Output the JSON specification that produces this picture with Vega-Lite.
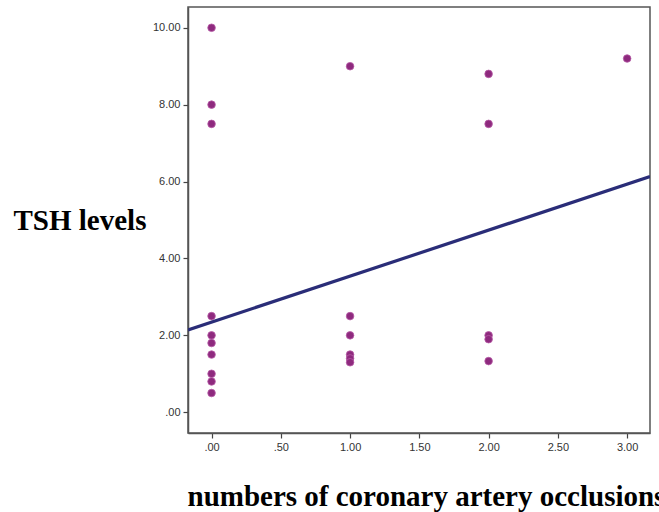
{
  "$schema": "https://vega.github.io/schema/vega-lite/v6.json",
  "width": 462,
  "height": 426,
  "autosize": {"type": "none"},
  "padding": {"left": 188, "top": 7, "right": 9, "bottom": 79},
  "background": "white",
  "config": {
    "view": {"stroke": "#555555", "strokeWidth": 1.5},
    "axis": {"grid": false, "domainColor": "#555555", "domainWidth": 1.5, "tickColor": "#444444", "tickSize": 5, "tickWidth": 1.2, "labelFont": "Liberation Sans", "labelFontSize": 11, "labelColor": "#333333", "labelPadding": 3}
  },
  "datasets": {
    "pts": [
      {"occlusions": 0, "tsh": 10.0},
      {"occlusions": 0, "tsh": 8.0},
      {"occlusions": 0, "tsh": 7.5},
      {"occlusions": 0, "tsh": 2.5},
      {"occlusions": 0, "tsh": 2.0},
      {"occlusions": 0, "tsh": 1.8},
      {"occlusions": 0, "tsh": 1.5},
      {"occlusions": 0, "tsh": 1.0},
      {"occlusions": 0, "tsh": 0.8},
      {"occlusions": 0, "tsh": 0.5},
      {"occlusions": 1, "tsh": 9.0},
      {"occlusions": 1, "tsh": 2.5},
      {"occlusions": 1, "tsh": 2.0},
      {"occlusions": 1, "tsh": 1.5},
      {"occlusions": 1, "tsh": 1.4},
      {"occlusions": 1, "tsh": 1.3},
      {"occlusions": 2, "tsh": 8.8},
      {"occlusions": 2, "tsh": 7.5},
      {"occlusions": 2, "tsh": 2.0},
      {"occlusions": 2, "tsh": 1.9},
      {"occlusions": 2, "tsh": 1.33},
      {"occlusions": 3, "tsh": 9.2}
    ],
    "fit": [
      {"occlusions": -0.17, "tsh": 2.14},
      {"occlusions": 3.165, "tsh": 6.13}
    ]
  },
  "layer": [
    {
      "data": {"name": "pts"},
      "mark": {"type": "point", "filled": true, "size": 58, "color": "#8e2a7e", "opacity": 1, "stroke": "#b65aa6", "strokeWidth": 0.8},
      "encoding": {
        "x": {"field": "occlusions", "type": "quantitative",
          "scale": {"domain": [-0.17, 3.165], "nice": false, "zero": false},
          "axis": {"values": [0, 0.5, 1, 1.5, 2, 2.5, 3],
            "labelExpr": "datum.value < 1 ? slice(format(datum.value, '.2f'), 1) : format(datum.value, '.2f')",
            "title": "numbers of coronary artery occlusions",
            "titleFont": "Liberation Serif", "titleFontWeight": "bold", "titleFontSize": 29, "titleColor": "#000000",
            "titleAlign": "left", "titleAnchor": null, "titleX": -1, "titleY": 72, "titleBaseline": "alphabetic"}},
        "y": {"field": "tsh", "type": "quantitative",
          "scale": {"domain": [-0.54, 10.54], "nice": false, "zero": false},
          "axis": {"values": [0, 2, 4, 6, 8, 10],
            "labelExpr": "datum.value < 1 ? slice(format(datum.value, '.2f'), 1) : format(datum.value, '.2f')",
            "title": "TSH levels",
            "titleFont": "Liberation Serif", "titleFontWeight": "bold", "titleFontSize": 29, "titleColor": "#000000",
            "titleAngle": 0, "titleAlign": "left", "titleAnchor": null, "titleX": -175, "titleY": 222, "titleBaseline": "alphabetic"}}
      }
    },
    {
      "data": {"name": "fit"},
      "mark": {"type": "line", "color": "#2a2d78", "strokeWidth": 3.2, "clip": true},
      "encoding": {
        "x": {"field": "occlusions", "type": "quantitative"},
        "y": {"field": "tsh", "type": "quantitative"}
      }
    }
  ]
}
